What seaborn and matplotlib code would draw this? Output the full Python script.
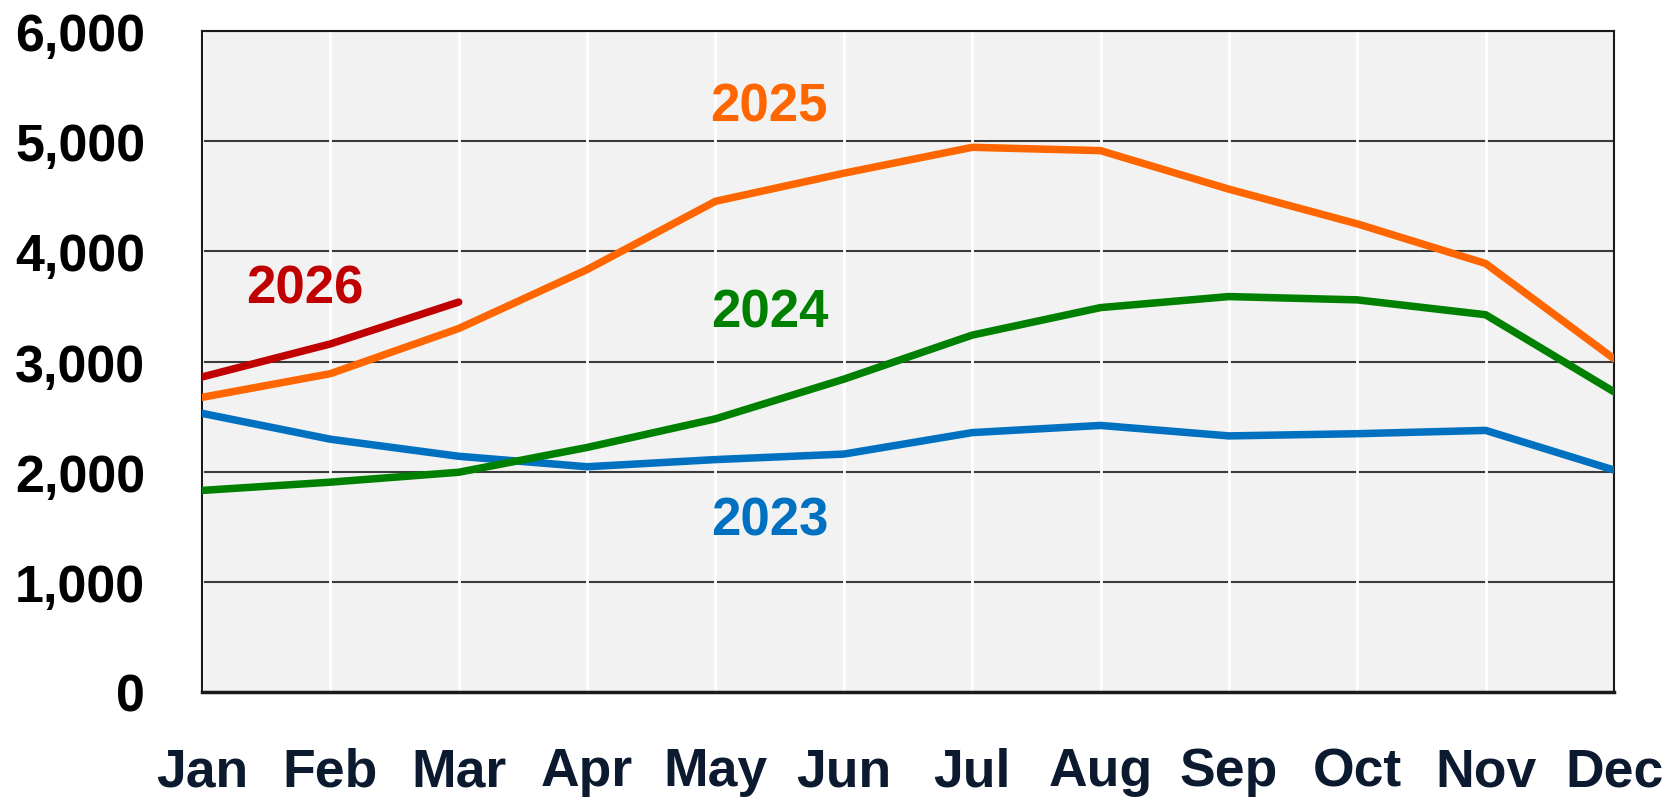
import pandas as pd
import matplotlib
matplotlib.use('Agg')
import matplotlib.pyplot as plt
import seaborn as sns

# Monthly values
months = ['Jan', 'Feb', 'Mar', 'Apr', 'May', 'Jun', 'Jul', 'Aug', 'Sep', 'Oct', 'Nov', 'Dec']
vals_2023 = [2530, 2295, 2140, 2045, 2110, 2160, 2355, 2420, 2325, 2345, 2375, 2015]
vals_2024 = [1830, 1905, 1995, 2220, 2480, 2840, 3240, 3490, 3590, 3560, 3425, 2725]
vals_2025 = [2675, 2890, 3300, 3835, 4455, 4710, 4945, 4915, 4565, 4250, 3890, 3025]
vals_2026 = [2860, 3160, 3540]

years = ['2023', '2024', '2025', '2026']
colors = {'2023': '#0070c0', '2024': '#008000', '2025': '#ff6600', '2026': '#c00000'}

# label positions (month index, value)
label_pos = {'2023': (4.42, 1560), '2024': (4.42, 3445), '2025': (4.42, 5320), '2026': (0.80, 3660)}

rows = []
for yr, vals in zip(years, [vals_2023, vals_2024, vals_2025, vals_2026]):
    for i, v in enumerate(vals):
        rows.append({'year': yr, 'month': i, 'value': v})
df = pd.DataFrame(rows)

sns.set_style('white')
plt.rcParams['font.family'] = ['Liberation Sans', 'DejaVu Sans']

fig = plt.figure(figsize=(16.79, 8.03), dpi=100)
ax = fig.add_axes([0.1203, 0.137, 0.8410, 0.823])
ax.set_facecolor('#f2f2f2')

# vertical white month lines, dark horizontal grid
for i in range(len(months)):
    ax.axvline(i, color='white', lw=2, zorder=1)
ax.yaxis.grid(True, color='#3a3a3a', lw=1.5, zorder=1)
ax.set_axisbelow(True)

sns.lineplot(data=df, x='month', y='value', hue='year', palette=colors,
             linewidth=5.4, legend=False, ax=ax, zorder=3)

for yr in years:
    x, y = label_pos[yr]
    ax.text(x, y, yr, color=colors[yr], fontsize=38, fontweight='bold',
            ha='center', va='center')

ax.set_xlim(0, 11)
ax.set_ylim(0, 6000)
ax.set_xticks(range(len(months)))
ax.set_xticklabels(months)
ax.set_yticks(range(0, 6001, 1000))
ax.set_yticklabels([f'{v:,}' for v in range(0, 6001, 1000)])
ax.tick_params(axis='x', length=0, pad=39, labelsize=38.5, labelcolor='#0c1a30')
ax.tick_params(axis='y', length=0, pad=41, labelsize=37.5, labelcolor='black')
for lab in ax.get_xticklabels() + ax.get_yticklabels():
    lab.set_fontweight('bold')
ax.set_xlabel('')
ax.set_ylabel('')

for s in ax.spines.values():
    s.set_visible(True)
    s.set_color('#1a1a1a')
    s.set_linewidth(1.5)
ax.spines['bottom'].set_linewidth(2.5)

fig.savefig('out.png', dpi=100)
